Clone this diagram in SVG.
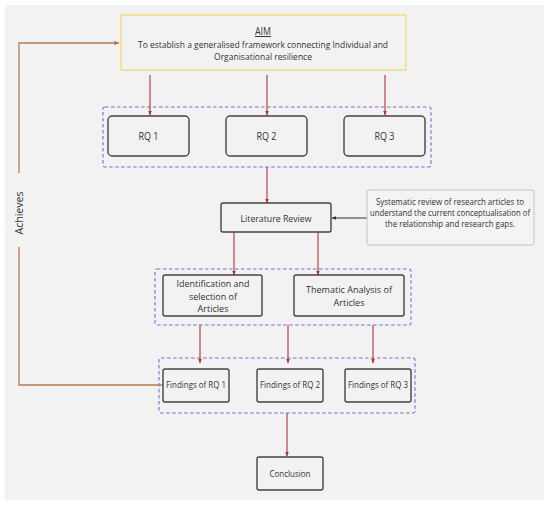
<svg xmlns="http://www.w3.org/2000/svg" width="550" height="505" viewBox="0 0 550 505">
<defs>
<style>
text{font-family:"Open Sans","Noto Sans",sans-serif;fill:#333;text-anchor:middle}
.node{fill:#f2f2f2;stroke:#444;stroke-width:1.4}
.grp{fill:none;stroke:#8068d8;stroke-width:1.1;stroke-dasharray:3.5 2.5}
.red{stroke:#b0343a;stroke-width:1.1;fill:none;marker-end:url(#ar)}
.brown{stroke:#b87c52;stroke-width:1.3;fill:none}
</style>
<marker id="ar" viewBox="0 0 6 6" refX="5.5" refY="3" markerWidth="4" markerHeight="4" orient="auto"><path d="M0,0.5 L6,3 L0,5.5z" fill="#b0343a"/></marker>
<marker id="ab" viewBox="0 0 6 6" refX="5.5" refY="3" markerWidth="4" markerHeight="4" orient="auto"><path d="M0,0.5 L6,3 L0,5.5z" fill="#b87c52"/></marker>
<marker id="ak" viewBox="0 0 6 6" refX="5.5" refY="3" markerWidth="4" markerHeight="4" orient="auto"><path d="M0,0.5 L6,3 L0,5.5z" fill="#333"/></marker>
</defs>
<rect x="0" y="0" width="550" height="505" fill="#ffffff"/>
<rect x="5" y="5" width="539" height="495" fill="#f2f2f2"/>

<g id="groups">
<rect class="grp" x="103" y="107" width="328" height="60" rx="2"/>
<rect class="grp" x="155" y="269" width="256" height="56" rx="2"/>
<rect class="grp" x="159" y="358" width="256" height="55" rx="2"/>
</g>

<g id="connectors">
<path class="red" d="M150,75 V115"/>
<path class="red" d="M267,75 V115"/>
<path class="red" d="M385,75 V115"/>
<path class="red" d="M267,167 V203"/>
<path class="red" d="M234,232 V275"/>
<path class="red" d="M318,232 V275"/>
<path class="red" d="M200,325 V363"/>
<path class="red" d="M288,325 V363"/>
<path class="red" d="M373,325 V363"/>
<path class="red" d="M287,413 V456"/>
<path d="M367,218 H332" stroke="#333" stroke-width="1.1" fill="none" marker-end="url(#ak)"/>
<path class="brown" d="M19,173 V43 H119" marker-end="url(#ab)"/>
<path class="brown" d="M19,247 V385 H163"/>
<text x="0" y="0" transform="translate(23,213) rotate(-90)" font-size="11" textLength="43" lengthAdjust="spacingAndGlyphs">Achieves</text>
</g>

<g id="aim">
<rect x="121" y="15" width="285" height="55" fill="#f2f2f2" stroke="#f0d86a" stroke-width="1.2"/>
<text x="263" y="35" font-size="10" textLength="16" lengthAdjust="spacingAndGlyphs" text-decoration="underline">AIM</text>
<text x="263" y="47.5" font-size="9.5" textLength="250" lengthAdjust="spacingAndGlyphs">To establish a generalised framework connecting Individual and</text>
<text x="263" y="59.5" font-size="9.5" textLength="98" lengthAdjust="spacingAndGlyphs">Organisational resilience</text>
</g>

<g id="rq1"><rect class="node" x="108" y="116" width="81" height="40" rx="4"/><text x="148.5" y="140" font-size="11" textLength="20" lengthAdjust="spacingAndGlyphs">RQ 1</text></g>
<g id="rq2"><rect class="node" x="226" y="116" width="81" height="40" rx="4"/><text x="266.5" y="140" font-size="11" textLength="20" lengthAdjust="spacingAndGlyphs">RQ 2</text></g>
<g id="rq3"><rect class="node" x="344" y="116" width="81" height="40" rx="4"/><text x="384.5" y="140" font-size="11" textLength="20" lengthAdjust="spacingAndGlyphs">RQ 3</text></g>

<g id="litreview"><rect class="node" x="221" y="203" width="110" height="29" rx="2" stroke-width="1.2"/><text x="276" y="221.5" font-size="9.5" textLength="71" lengthAdjust="spacingAndGlyphs">Literature Review</text></g>

<g id="systematic">
<rect x="367" y="190" width="167" height="55" rx="2" fill="#f4f4f4" stroke="#c4c4c4" stroke-width="1"/>
<text x="450" y="205" font-size="8.5" textLength="148" lengthAdjust="spacingAndGlyphs">Systematic review of research articles to</text>
<text x="450" y="216" font-size="8.5" textLength="160" lengthAdjust="spacingAndGlyphs">understand the current conceptualisation of</text>
<text x="450" y="227" font-size="8.5" textLength="130" lengthAdjust="spacingAndGlyphs">the relationship and research gaps.</text>
</g>

<g id="identification">
<rect class="node" x="163" y="275" width="99" height="41" rx="2" stroke-width="1.2"/>
<text x="213" y="287" font-size="9.5" textLength="73" lengthAdjust="spacingAndGlyphs">Identification and</text>
<text x="213" y="299.5" font-size="9.5" textLength="48" lengthAdjust="spacingAndGlyphs">selection of</text>
<text x="213" y="311.5" font-size="9.5" textLength="31" lengthAdjust="spacingAndGlyphs">Articles</text>
</g>

<g id="thematic">
<rect class="node" x="294" y="275" width="110" height="41" rx="2" stroke-width="1.2"/>
<text x="349" y="292.5" font-size="9.5" textLength="86" lengthAdjust="spacingAndGlyphs">Thematic Analysis of</text>
<text x="349" y="305.5" font-size="9.5" textLength="31" lengthAdjust="spacingAndGlyphs">Articles</text>
</g>

<g id="findings1"><rect class="node" x="163" y="369" width="66" height="33" rx="2" stroke-width="1.2"/><text x="196" y="388" font-size="9" textLength="60" lengthAdjust="spacingAndGlyphs">Findings of RQ 1</text></g>
<g id="findings2"><rect class="node" x="257" y="369" width="66" height="33" rx="2" stroke-width="1.2"/><text x="290" y="388" font-size="9" textLength="60" lengthAdjust="spacingAndGlyphs">Findings of RQ 2</text></g>
<g id="findings3"><rect class="node" x="345" y="369" width="66" height="33" rx="2" stroke-width="1.2"/><text x="378" y="388" font-size="9" textLength="60" lengthAdjust="spacingAndGlyphs">Findings of RQ 3</text></g>

<g id="conclusion"><rect class="node" x="257" y="457" width="66" height="33" rx="2" stroke-width="1.2"/><text x="290" y="477" font-size="9" textLength="41" lengthAdjust="spacingAndGlyphs">Conclusion</text></g>
</svg>
